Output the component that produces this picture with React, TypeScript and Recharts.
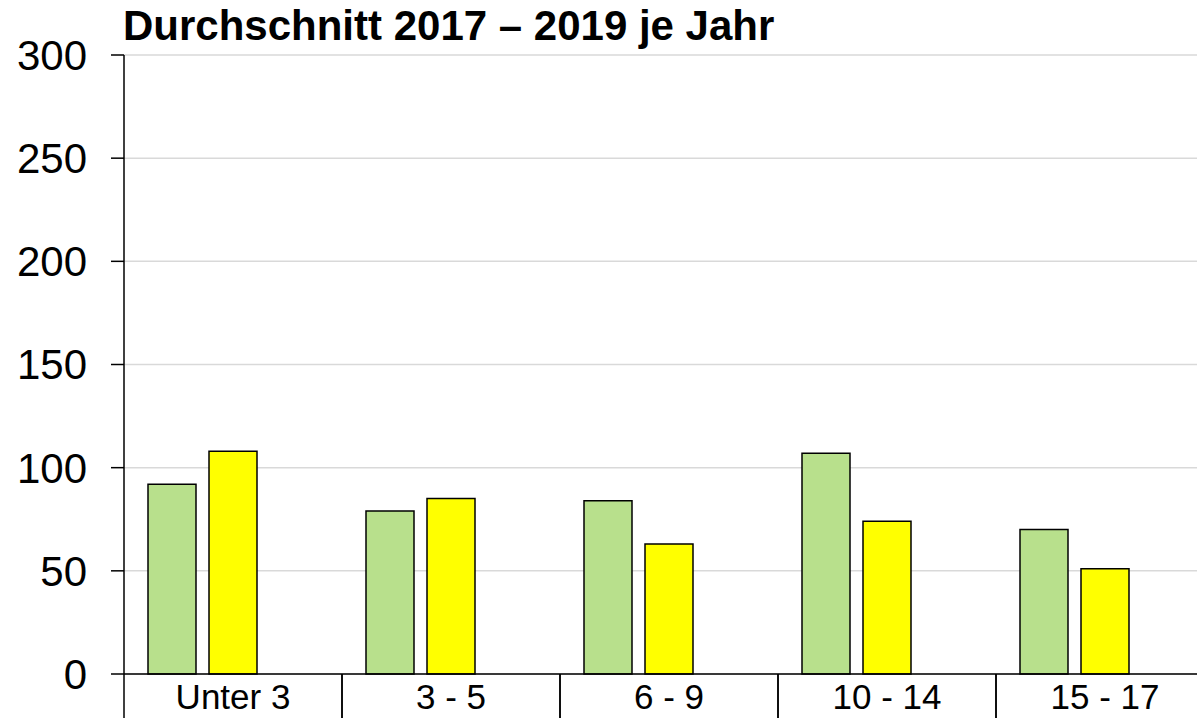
import React from "react";
import { BarChart, Bar, XAxis, YAxis, CartesianGrid } from "recharts";

// Altersgruppen
const categories = ["Unter 3", "3 - 5", "6 - 9", "10 - 14", "15 - 17"];
// Werte je Jahr (Durchschnitt 2017 – 2019)
const gruenWerte = [92, 79, 84, 107, 70];
const gelbWerte = [108, 85, 63, 74, 51];
// dritte Reihe ohne Werte (leerer Platz in jeder Gruppe)
const leerWerte = [null, null, null, null, null];
const yTicks = [0, 50, 100, 150, 200, 250, 300];

const data = categories.map((c, i) => ({
  name: c,
  gruen: gruenWerte[i],
  gelb: gelbWerte[i],
  leer: leerWerte[i],
}));

const CHART_W = 1214;
const CHART_H = 718;
const YAXIS_W = 124;
const HALF_BAND = (CHART_W - YAXIS_W) / categories.length / 2;
const FONT = "'Liberation Sans', Arial, sans-serif";

const CategoryTick = (props: any) => {
  const { x, y, payload } = props;
  return (
    <g>
      <line x1={x - HALF_BAND} x2={x - HALF_BAND} y1={y} y2={y + 60} stroke="#000" strokeWidth={1.5} />
      <line x1={x + HALF_BAND} x2={x + HALF_BAND} y1={y} y2={y + 60} stroke="#000" strokeWidth={1.5} />
      <text x={x} y={y + 35} textAnchor="middle" fill="#000" fontSize={35} fontFamily={FONT}>
        {payload.value}
      </text>
    </g>
  );
};

export default function App() {
  return (
    <div
      style={{
        position: "absolute",
        left: 0,
        top: 0,
        width: 1197,
        height: 718,
        overflow: "hidden",
        background: "#fff",
        fontFamily: FONT,
      }}
    >
      <BarChart
        width={CHART_W}
        height={CHART_H}
        data={data}
        margin={{ top: 55, right: 0, bottom: 0, left: 0 }}
        barGap={13}
        barCategoryGap={24}
      >
        <CartesianGrid vertical={false} stroke="#d9d9d9" strokeWidth={1.5} />
        <XAxis
          dataKey="name"
          height={44}
          tickLine={false}
          tickSize={0}
          tickMargin={0}
          axisLine={{ stroke: "#000", strokeWidth: 1.5 }}
          tick={<CategoryTick />}
          interval={0}
        />
        <YAxis
          width={YAXIS_W}
          domain={[0, 300]}
          ticks={yTicks}
          tickSize={13}
          tickMargin={24}
          axisLine={{ stroke: "#000", strokeWidth: 1.5 }}
          tickLine={{ stroke: "#000", strokeWidth: 1.5 }}
          tick={{ fill: "#000", fontSize: 42, fontFamily: FONT }}
        />
        <Bar dataKey="gruen" fill="#b8e08c" stroke="#000" strokeWidth={1.5} isAnimationActive={false} />
        <Bar dataKey="gelb" fill="#ffff00" stroke="#000" strokeWidth={1.5} isAnimationActive={false} />
        <Bar dataKey="leer" fill="#ffffff" stroke="none" isAnimationActive={false} />
      </BarChart>
      <svg
        width={1197}
        height={55}
        style={{ position: "absolute", left: 0, top: 0, pointerEvents: "none" }}
      >
        <text x={123} y={40} fontSize={42} fontWeight="bold" fontFamily={FONT} fill="#000">
          Durchschnitt 2017 – 2019 je Jahr
        </text>
      </svg>
    </div>
  );
}
